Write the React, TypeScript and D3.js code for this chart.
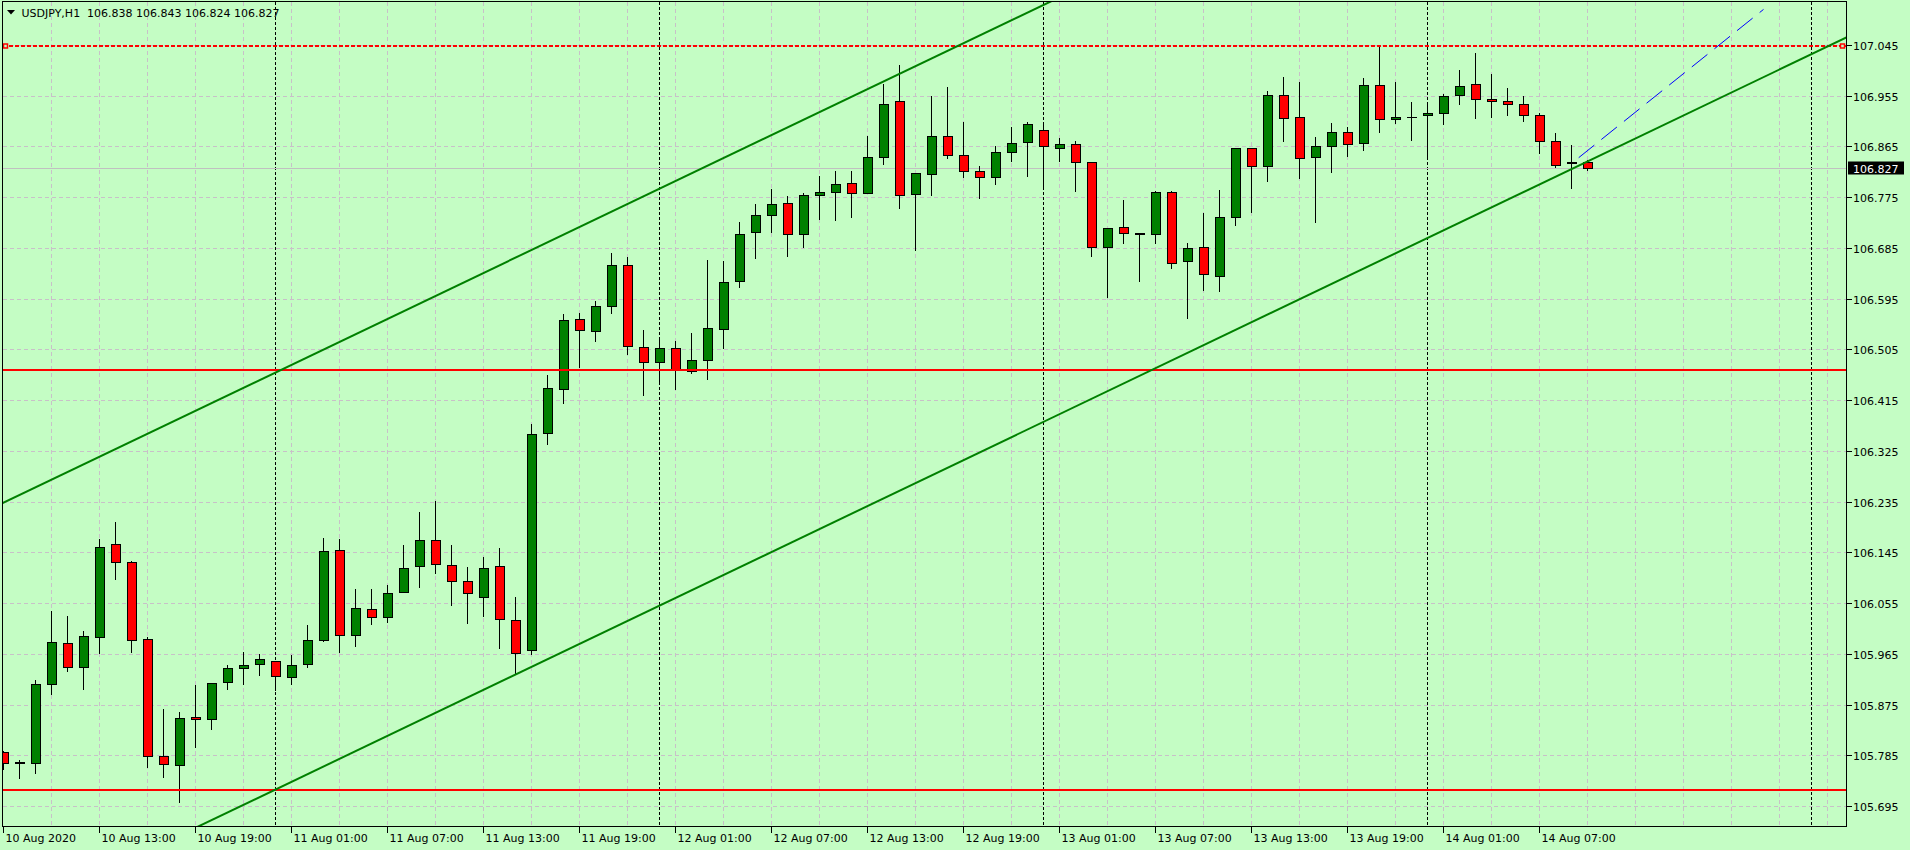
import React from 'react';
import * as d3 from 'd3';

// ---------- data (USDJPY H1, first bar = 10 Aug 2020 07:00) ----------
const OPEN = [
  105.790, 105.772, 105.772, 105.911, 105.984, 105.941, 105.995, 106.159, 106.128, 105.991,
  105.783, 105.767, 105.853, 105.849, 105.915, 105.940, 105.947, 105.952, 105.924, 105.947,
  105.990, 106.150, 105.998, 106.045, 106.030, 106.075, 106.121, 106.166, 106.123, 106.095,
  106.066, 106.121, 106.025, 105.972, 106.357, 106.435, 106.559, 106.538, 106.582, 106.655,
  106.509, 106.483, 106.508, 106.467, 106.487, 106.542, 106.627, 106.714, 106.744, 106.765,
  106.710, 106.779, 106.785, 106.801, 106.783, 106.847, 106.946, 106.781, 106.817, 106.884,
  106.849, 106.822, 106.811, 106.856, 106.873, 106.895, 106.863, 106.870, 106.838, 106.687,
  106.723, 106.712, 106.709, 106.785, 106.662, 106.687, 106.636, 106.740, 106.863, 106.831,
  106.957, 106.918, 106.847, 106.865, 106.890, 106.872, 106.974, 106.914, 106.918, 106.920,
  106.925, 106.957, 106.976, 106.950, 106.946, 106.941, 106.921, 106.875, 106.836, 106.838,
];
const HIGH = [
  105.794, 105.778, 105.920, 106.043, 106.033, 106.008, 106.171, 106.200, 106.132, 105.997,
  105.869, 105.864, 105.912, 105.915, 105.947, 105.970, 105.966, 105.953, 105.965, 106.017,
  106.173, 106.171, 106.081, 106.082, 106.088, 106.159, 106.219, 106.237, 106.159, 106.120,
  106.138, 106.155, 106.067, 106.374, 106.462, 106.570, 106.572, 106.593, 106.678, 106.671,
  106.541, 106.527, 106.521, 106.536, 106.666, 106.663, 106.733, 106.764, 106.792, 106.779,
  106.785, 106.814, 106.824, 106.823, 106.885, 106.977, 107.011, 106.818, 106.956, 106.973,
  106.911, 106.833, 106.868, 106.902, 106.911, 106.911, 106.881, 106.877, 106.838, 106.721,
  106.771, 106.714, 106.787, 106.787, 106.696, 106.748, 106.789, 106.863, 106.863, 106.966,
  106.990, 106.981, 106.884, 106.909, 106.902, 106.989, 107.045, 106.982, 106.946, 106.941,
  106.960, 107.003, 107.033, 106.996, 106.971, 106.957, 106.927, 106.891, 106.870, 106.843,
];
const LOW = [
  105.760, 105.745, 105.754, 105.893, 105.935, 105.903, 105.966, 106.097, 105.968, 105.765,
  105.747, 105.702, 105.800, 105.831, 105.902, 105.911, 105.927, 105.901, 105.911, 105.941,
  105.987, 105.969, 105.978, 106.017, 106.021, 106.075, 106.083, 106.108, 106.051, 106.020,
  106.032, 105.975, 105.929, 105.964, 106.337, 106.410, 106.473, 106.520, 106.570, 106.496,
  106.424, 106.447, 106.434, 106.463, 106.452, 106.507, 106.616, 106.667, 106.713, 106.671,
  106.686, 106.736, 106.734, 106.740, 106.782, 106.834, 106.756, 106.681, 106.779, 106.845,
  106.810, 106.774, 106.798, 106.839, 106.813, 106.795, 106.839, 106.786, 106.671, 106.598,
  106.694, 106.627, 106.694, 106.649, 106.560, 106.610, 106.609, 106.726, 106.748, 106.804,
  106.875, 106.809, 106.731, 106.820, 106.848, 106.859, 106.891, 106.907, 106.877, 106.842,
  106.904, 106.941, 106.916, 106.918, 106.920, 106.911, 106.854, 106.829, 106.792, 106.824,
];
const CLOSE = [
  105.771, 105.773, 105.911, 105.986, 105.941, 105.997, 106.155, 106.128, 105.990, 105.783,
  105.769, 105.851, 105.849, 105.913, 105.940, 105.945, 105.956, 105.925, 105.945, 105.990,
  106.148, 105.998, 106.047, 106.031, 106.073, 106.118, 106.166, 106.125, 106.095, 106.072,
  106.118, 106.026, 105.966, 106.355, 106.437, 106.557, 106.540, 106.582, 106.655, 106.511,
  106.483, 106.508, 106.469, 106.487, 106.543, 106.625, 106.710, 106.744, 106.763, 106.710,
  106.779, 106.785, 106.799, 106.783, 106.847, 106.941, 106.779, 106.818, 106.884, 106.849,
  106.822, 106.811, 106.856, 106.872, 106.904, 106.866, 106.870, 106.838, 106.687, 106.721,
  106.712, 106.709, 106.785, 106.659, 106.685, 106.639, 106.740, 106.863, 106.831, 106.957,
  106.916, 106.845, 106.865, 106.890, 106.870, 106.974, 106.913, 106.918, 106.918, 106.925,
  106.955, 106.973, 106.950, 106.946, 106.941, 106.920, 106.875, 106.833, 106.837, 106.827,
];

const SYMBOL = 'USDJPY,H1';
const TIME_LABELS = [
  '10 Aug 2020', '10 Aug 13:00', '10 Aug 19:00', '11 Aug 01:00', '11 Aug 07:00', '11 Aug 13:00',
  '11 Aug 19:00', '12 Aug 01:00', '12 Aug 07:00', '12 Aug 13:00', '12 Aug 19:00', '13 Aug 01:00',
  '13 Aug 07:00', '13 Aug 13:00', '13 Aug 19:00', '14 Aug 01:00', '14 Aug 07:00',
];
const TIME_LABEL_BARS = [0, 6, 12, 18, 24, 30, 36, 42, 48, 54, 60, 66, 72, 78, 84, 90, 96];
const PRICE_TICKS = [
  107.045, 106.955, 106.865, 106.775, 106.685, 106.595, 106.505, 106.415,
  106.325, 106.235, 106.145, 106.055, 105.965, 105.875, 105.785, 105.695,
];
const DAY_SEPARATOR_BARS = [17, 41, 65, 89, 113];
const RED_SOLID_LEVELS = [106.470, 105.7234];
const RED_DASHED_LEVEL = 107.045;
const CHANNEL_UPPER: [number, number][] = [[0, 106.234], [60, 107.049]];
const CHANNEL_LOWER: [number, number][] = [[32, 105.929], [100, 106.853]];
const BLUE_SEGMENT: [number, number][] = [[98.45, 106.846], [110, 107.109]];

// ---------- layout ----------
const W = 1910;
const H = 850;
const PL = 2.5, PT = 1.5, PR = 1846.5, PB = 826.5;
const BG = '#c4fdc4';
const GRID = '#c8c0c8';
const FONT = '"DejaVu Sans", Verdana, sans-serif';

const x = d3.scaleLinear().domain([0, 1]).range([3.5, 19.5]);
const y = d3.scaleLinear().domain([105.695, 107.045]).range([806.5, 45.5]);
const crisp = (v: number) => Math.round(v - 0.5) + 0.5;

function extendLine(pts: [number, number][]) {
  const x1 = x(pts[0][0]), y1 = y(pts[0][1]);
  const x2 = x(pts[1][0]), y2 = y(pts[1][1]);
  const m = (y2 - y1) / (x2 - x1);
  const xa = -100, xb = 2000;
  return { x1: xa, y1: y1 + m * (xa - x1), x2: xb, y2: y1 + m * (xb - x1) };
}

export default function App() {
  const n = OPEN.length;
  const last = n - 1;
  const bidY = crisp(y(CLOSE[last]));
  const vGrid: number[] = [];
  for (let i = 3; x(i) < PR; i += 3) vGrid.push(i);
  const up = extendLine(CHANNEL_UPPER);
  const lo = extendLine(CHANNEL_LOWER);
  const redDashY = Math.round(y(RED_DASHED_LEVEL));

  return (
    <svg width={W} height={H} style={{ position: 'absolute', left: 0, top: 0, display: 'block' }}
      fontFamily={FONT} fontSize={11}>
      <defs>
        <clipPath id="plot">
          <rect x={PL + 0.5} y={PT + 0.5} width={PR - PL - 1} height={PB - PT - 1} />
        </clipPath>
      </defs>
      <rect x={0} y={0} width={W} height={H} fill={BG} />

      {/* grid */}
      <g stroke={GRID} strokeWidth={1} strokeDasharray="4,3" shapeRendering="crispEdges">
        {PRICE_TICKS.map((p) => (
          <line key={'h' + p} x1={PL} x2={PR} y1={crisp(y(p))} y2={crisp(y(p))} />
        ))}
        {vGrid.map((i) => (
          <line key={'v' + i} x1={x(i)} x2={x(i)} y1={PT} y2={PB} />
        ))}
      </g>

      {/* day separators */}
      <g stroke="#000" strokeWidth={1} strokeDasharray="3,2" shapeRendering="crispEdges">
        {DAY_SEPARATOR_BARS.map((i) => (
          <line key={'s' + i} x1={x(i)} x2={x(i)} y1={PT} y2={PB} />
        ))}
      </g>

      {/* bid line */}
      <line x1={PL} x2={PR} y1={bidY} y2={bidY} stroke="#c0c0c0" strokeWidth={1} shapeRendering="crispEdges" />

      {/* candles */}
      <g clipPath="url(#plot)" shapeRendering="crispEdges">
        {OPEN.map((o, i) => {
          const c = CLOSE[i];
          const cx = x(i);
          const yo = crisp(y(o));
          const yc = crisp(y(c));
          const top = Math.min(yo, yc);
          const bot = Math.max(yo, yc);
          const bull = c >= o;
          return (
            <g key={'c' + i}>
              <line x1={cx} x2={cx} y1={crisp(y(HIGH[i]))} y2={crisp(y(LOW[i])) + 0.5} stroke="#000" strokeWidth={1} />
              {bot - top < 1 ? (
                <line x1={cx - 5} x2={cx + 5} y1={top} y2={top} stroke="#000" strokeWidth={1} />
              ) : (
                <rect x={cx - 4} y={top} width={9} height={bot - top}
                  fill={bull ? '#008000' : '#ff0000'} stroke="#000" strokeWidth={1} />
              )}
            </g>
          );
        })}
      </g>

      {/* objects */}
      <g clipPath="url(#plot)">
        {RED_SOLID_LEVELS.map((p) => (
          <line key={'r' + p} x1={PL} x2={PR} y1={Math.round(y(p))} y2={Math.round(y(p))}
            stroke="#ff0000" strokeWidth={2} shapeRendering="crispEdges" />
        ))}
        <line x1={PL} x2={PR} y1={redDashY} y2={redDashY} stroke="#ff0000" strokeWidth={2}
          strokeDasharray="4,2" shapeRendering="crispEdges" />
        <line {...up} stroke="#008000" strokeWidth={2} />
        <line {...lo} stroke="#008000" strokeWidth={2} />
        <line x1={x(BLUE_SEGMENT[0][0])} y1={y(BLUE_SEGMENT[0][1])}
          x2={x(BLUE_SEGMENT[1][0])} y2={y(BLUE_SEGMENT[1][1])}
          stroke="#0000ff" strokeWidth={1} strokeDasharray="20,9" />
      </g>
      {/* selection markers of the dashed line */}
      <rect x={3.5} y={redDashY - 2} width={4} height={4} fill={BG} stroke="#ff0000" strokeWidth={1.5} />
      <rect x={1840.5} y={redDashY - 2} width={4} height={4} fill={BG} stroke="#ff0000" strokeWidth={1.5} />

      {/* frame */}
      <rect x={PL} y={PT} width={PR - PL} height={PB - PT} fill="none" stroke="#000" strokeWidth={1} shapeRendering="crispEdges" />

      {/* price axis */}
      <g fill="#000">
        {PRICE_TICKS.map((p) => {
          const yy = crisp(y(p));
          return (
            <g key={'pt' + p}>
              <line x1={PR} x2={PR + 5} y1={yy} y2={yy} stroke="#000" shapeRendering="crispEdges" />
              <text x={1853} y={yy + 4}>{p.toFixed(3)}</text>
            </g>
          );
        })}
      </g>
      <rect x={1848} y={bidY - 7} width={56} height={13} fill="#000" />
      <text x={1853} y={bidY + 4} fill="#fff">{CLOSE[last].toFixed(3)}</text>

      {/* time axis */}
      <g fill="#000">
        {TIME_LABEL_BARS.map((b, k) => (
          <g key={'tl' + b}>
            <line x1={x(b)} x2={x(b)} y1={PB} y2={PB + 6} stroke="#000" shapeRendering="crispEdges" />
            <text x={x(b) + 2} y={842}>{TIME_LABELS[k]}</text>
          </g>
        ))}
      </g>

      {/* header */}
      <path d="M7,10 L15,10 L11,14.5 Z" fill="#000" />
      <text x={21.5} y={17} fill="#000" style={{ whiteSpace: 'pre' }}>
        {`${SYMBOL}  ${OPEN[last].toFixed(3)} ${HIGH[last].toFixed(3)} ${LOW[last].toFixed(3)} ${CLOSE[last].toFixed(3)}`}
      </text>
    </svg>
  );
}
